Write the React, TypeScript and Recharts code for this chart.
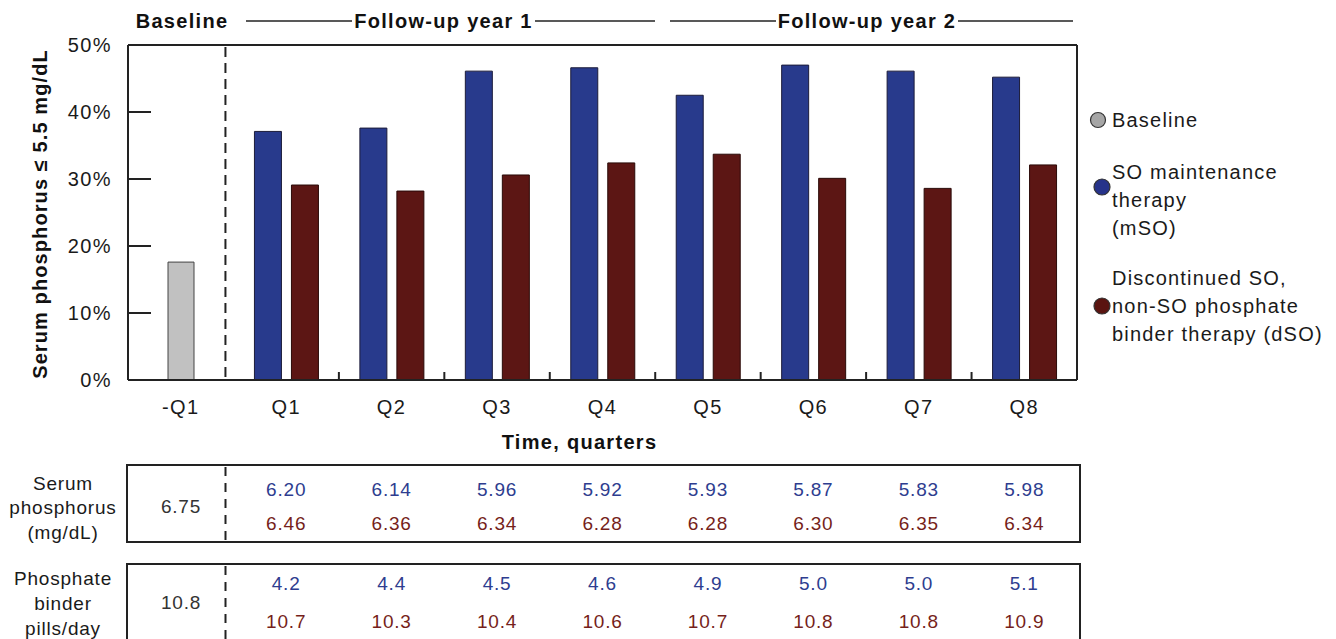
import React from 'react';
import { BarChart, Bar, XAxis, YAxis, ReferenceLine } from 'recharts';

// chart values
const quarters = ['-Q1', 'Q1', 'Q2', 'Q3', 'Q4', 'Q5', 'Q6', 'Q7', 'Q8'];
const baselinePct = [17.6, null, null, null, null, null, null, null, null];
const msoPct = [null, 37.1, 37.6, 46.1, 46.6, 42.5, 47.0, 46.1, 45.2];
const dsoPct = [null, 29.1, 28.2, 30.6, 32.4, 33.7, 30.1, 28.6, 32.1];
const yTicks = [0, 10, 20, 30, 40, 50];
// small tick marks sit at the start of these quarters
const boundaryTicks = ['Q2', 'Q3', 'Q4', 'Q5', 'Q6', 'Q7', 'Q8'];

// table below the chart
const serumBaseline = '6.75';
const serumMso = ['6.20', '6.14', '5.96', '5.92', '5.93', '5.87', '5.83', '5.98'];
const serumDso = ['6.46', '6.36', '6.34', '6.28', '6.28', '6.30', '6.35', '6.34'];
const pillsBaseline = '10.8';
const pillsMso = ['4.2', '4.4', '4.5', '4.6', '4.9', '5.0', '5.0', '5.1'];
const pillsDso = ['10.7', '10.3', '10.4', '10.6', '10.7', '10.8', '10.8', '10.9'];

const data = quarters.map((q, i) => ({
  q,
  baseline: baselinePct[i],
  mso: msoPct[i],
  dso: dsoPct[i],
}));

const W = 1336;
const H = 639;
const PLOT_L = 128;
const PLOT_R = 1077;
const PLOT_T = 45;
const PLOT_B = 380;
const BAND = (PLOT_R - PLOT_L) / quarters.length;
const colX = (i: number) => PLOT_L + (i + 0.5) * BAND;

const FONT = '"Liberation Sans", Arial, sans-serif';
const INK = '#222';
const BLUE = '#283a8c';
const RED = '#5c1614';
const GRAY = '#c1c1c1';
const BLUE_TXT = '#2e3d8f';
const RED_TXT = '#761f1b';

const textBase = { fontFamily: FONT, fontSize: 19, letterSpacing: 0.8 };

// short tick pointing right from the y axis
const yTickShape = (p: any) => {
  const x = Math.min(p.x1, p.x2);
  return <line x1={x} x2={x + 23} y1={p.y1} y2={p.y1} stroke={INK} strokeWidth={2} />;
};

// short tick pointing up from the x axis
const xTickShape = (p: any) => {
  const y = Math.max(p.y1, p.y2);
  return <line x1={p.x1} x2={p.x1} y1={y} y2={y - 8} stroke={INK} strokeWidth={2} />;
};

// dashed separator between baseline and follow-up
const dashShape = (p: any) => (
  <line
    x1={p.x1 - 8}
    x2={p.x1 - 8}
    y1={Math.min(p.y1, p.y2) + 2}
    y2={Math.max(p.y1, p.y2)}
    stroke={INK}
    strokeWidth={2}
    strokeDasharray="10 6"
  />
);

function Header() {
  const y = 21;
  const lines = [
    [246, 352],
    [535, 655],
    [670, 776],
    [958, 1073],
  ];
  return (
    <g>
      {lines.map(([a, b], i) => (
        <line key={i} x1={a} x2={b} y1={y} y2={y} stroke={INK} strokeWidth={1.5} />
      ))}
      {[
        ['Baseline', 182],
        ['Follow-up year 1', 443.5],
        ['Follow-up year 2', 867],
      ].map(([t, x]) => (
        <text
          key={t as string}
          x={x as number}
          y={y}
          textAnchor="middle"
          dominantBaseline="central"
          fontFamily={FONT}
          fontSize={20}
          fontWeight="bold"
          letterSpacing={1.3}
          fill="#111"
        >
          {t}
        </text>
      ))}
    </g>
  );
}

function Legend() {
  const items = [
    { color: '#a6a6a6', cx: 1098, cy: 120, r: 7.5, lines: ['Baseline'], y0: 120 },
    { color: '#26338a', cx: 1102, cy: 187, r: 8, lines: ['SO maintenance', 'therapy', '(mSO)'], y0: 172 },
    {
      color: '#5a1410',
      cx: 1102,
      cy: 306,
      r: 8,
      lines: ['Discontinued SO,', 'non-SO phosphate', 'binder therapy (dSO)'],
      y0: 278,
    },
  ];
  return (
    <g>
      {items.map((it, k) => (
        <g key={k}>
          <circle cx={it.cx} cy={it.cy} r={it.r} fill={it.color} stroke="#333" strokeWidth={1.2} />
          {it.lines.map((l, j) => (
            <text
              key={j}
              x={1112}
              y={it.y0 + j * 28}
              dominantBaseline="central"
              fontFamily={FONT}
              fontSize={20}
              letterSpacing={1.2}
              fill="#1a1a1a"
            >
              {l}
            </text>
          ))}
        </g>
      ))}
    </g>
  );
}

function DataTable({
  top,
  height,
  label,
  labelY,
  base,
  mso,
  dso,
  msoY,
  dsoY,
}: {
  top: number;
  height: number;
  label: string[];
  labelY: number[];
  base: string;
  mso: string[];
  dso: string[];
  msoY: number;
  dsoY: number;
}) {
  const dashX = 225.5;
  return (
    <g>
      <rect x={127} y={top} width={953} height={height} fill="none" stroke={INK} strokeWidth={2} />
      <line
        x1={dashX}
        x2={dashX}
        y1={top + 2}
        y2={top + height}
        stroke={INK}
        strokeWidth={2}
        strokeDasharray="9 7"
      />
      {label.map((l, j) => (
        <text key={j} x={63} y={labelY[j]} textAnchor="middle" dominantBaseline="central" {...textBase} fill="#1a1a1a">
          {l}
        </text>
      ))}
      <text x={181} y={(msoY + dsoY) / 2} textAnchor="middle" dominantBaseline="central" {...textBase} fill="#333">
        {base}
      </text>
      {mso.map((v, i) => (
        <text key={'m' + i} x={colX(i + 1)} y={msoY} textAnchor="middle" dominantBaseline="central" {...textBase} fill={BLUE_TXT}>
          {v}
        </text>
      ))}
      {dso.map((v, i) => (
        <text key={'d' + i} x={colX(i + 1)} y={dsoY} textAnchor="middle" dominantBaseline="central" {...textBase} fill={RED_TXT}>
          {v}
        </text>
      ))}
    </g>
  );
}

export default function App() {
  return (
    <div style={{ position: 'absolute', left: 0, top: 0, width: W, height: H, background: '#fff', overflow: 'hidden' }}>
      <div style={{ position: 'absolute', left: 0, top: 0 }}>
        <BarChart
          width={W}
          height={H}
          data={data}
          margin={{ top: PLOT_T, right: W - PLOT_R, left: PLOT_L - 60, bottom: H - PLOT_B - 30 }}
          barGap={10}
        >
          <XAxis
            dataKey="q"
            height={30}
            tickLine={false}
            tickSize={0}
            tickMargin={20}
            axisLine={{ stroke: INK, strokeWidth: 2 }}
            tick={{ fill: '#1a1a1a', fontSize: 20, fontFamily: FONT, letterSpacing: 1.4 }}
          />
          <XAxis dataKey="q" xAxisId="base" hide />
          <YAxis
            width={60}
            domain={[0, 50]}
            ticks={yTicks}
            tickFormatter={(v) => `${v}%`}
            tickLine={false}
            tickSize={0}
            tickMargin={16}
            axisLine={{ stroke: INK, strokeWidth: 2 }}
            tick={{ fill: '#1a1a1a', fontSize: 20, fontFamily: FONT, letterSpacing: 1.4 }}
          />
          {/* plot frame */}
          <ReferenceLine y={50} stroke={INK} strokeWidth={2} />
          <ReferenceLine x="Q8" position="end" stroke={INK} strokeWidth={2} />
          <ReferenceLine x="-Q1" position="start" stroke={INK} strokeWidth={2} />
          <ReferenceLine x="Q1" position="start" shape={dashShape} />
          {yTicks.slice(1, -1).map((v) => (
            <ReferenceLine key={v} y={v} shape={yTickShape} />
          ))}
          {boundaryTicks.map((k) => (
            <ReferenceLine key={k} x={k} position="start" shape={xTickShape} />
          ))}
          <Bar
            dataKey="baseline"
            xAxisId="base"
            fill={GRAY}
            stroke="#444"
            strokeWidth={1}
            barSize={26}
            isAnimationActive={false}
          />
          <Bar dataKey="mso" fill={BLUE} stroke="#1c1c3a" strokeWidth={1} barSize={27} isAnimationActive={false} />
          <Bar dataKey="dso" fill={RED} stroke="#2a0a08" strokeWidth={1} barSize={27} isAnimationActive={false} />
        </BarChart>
      </div>
      <svg width={W} height={H} style={{ position: 'absolute', left: 0, top: 0, pointerEvents: 'none' }}>
        <Header />
        <text
          transform={`translate(40, 214) rotate(-90)`}
          textAnchor="middle"
          dominantBaseline="central"
          fontFamily={FONT}
          fontSize={20}
          fontWeight="bold"
          letterSpacing={1.1}
          fill="#111"
        >
          Serum phosphorus ≤ 5.5 mg/dL
        </text>
        <text
          x={579.5}
          y={442}
          textAnchor="middle"
          dominantBaseline="central"
          fontFamily={FONT}
          fontSize={20}
          fontWeight="bold"
          letterSpacing={1.3}
          fill="#111"
        >
          Time, quarters
        </text>
        <Legend />
        <DataTable
          top={465}
          height={77}
          label={['Serum', 'phosphorus', '(mg/dL)']}
          labelY={[483, 507, 532]}
          base={serumBaseline}
          mso={serumMso}
          dso={serumDso}
          msoY={489}
          dsoY={523}
        />
        <DataTable
          top={564}
          height={100}
          label={['Phosphate', 'binder', 'pills/day']}
          labelY={[578, 603, 628]}
          base={pillsBaseline}
          mso={pillsMso}
          dso={pillsDso}
          msoY={583}
          dsoY={621}
        />
      </svg>
    </div>
  );
}
